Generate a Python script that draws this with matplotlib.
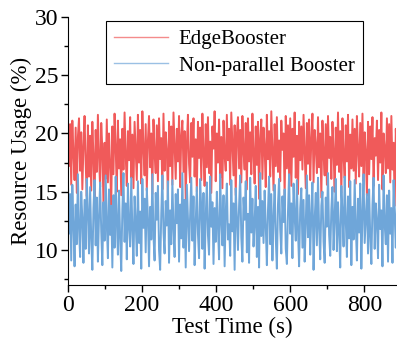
import matplotlib.pyplot as plt
import numpy as np
from matplotlib.ticker import MultipleLocator

plt.rcParams['font.family'] = ['Liberation Serif', 'DejaVu Serif']

# sampled every 3 s
step = 3
edge_booster = [
    21.4, 17.2, 20.8, 15.6, 21.1, 18.3, 16.0, 20.5, 14.9, 19.7, 21.3, 16.8, 20.1, 15.2, 18.9, 21.5, 17.4, 14.6, 20.7, 16.3,
    19.8, 15.1, 21.0, 18.0, 14.2, 20.3, 16.7, 21.6, 17.9, 15.4, 20.9, 18.6, 14.0, 19.2, 16.1, 21.2, 15.8, 20.0, 17.3, 13.9,
    20.6, 16.5, 21.7, 18.8, 15.0, 21.1, 17.0, 19.5, 14.7, 20.4, 16.9, 21.8, 18.1, 15.5, 20.2, 17.7, 21.4, 16.2, 19.9, 15.3,
    21.0, 18.4, 16.0, 21.6, 17.5, 20.3, 15.7, 21.9, 18.7, 16.4, 20.8, 15.1, 19.4, 21.5, 17.1, 20.0, 14.8, 21.2, 18.2, 16.6,
    20.7, 15.9, 21.3, 17.8, 19.6, 15.2, 21.7, 16.8, 20.1, 18.5, 14.5, 21.0, 17.2, 20.6, 15.6, 21.8, 18.9, 16.1, 20.4, 17.6,
    21.5, 15.4, 19.8, 21.1, 16.7, 20.2, 14.3, 19.0, 21.6, 17.4, 15.8, 20.9, 18.0, 21.3, 16.3, 19.5, 15.0, 21.0, 17.9, 20.5,
    16.0, 21.7, 18.3, 15.5, 20.8, 17.1, 21.4, 16.6, 19.3, 14.9, 20.6, 18.7, 21.9, 15.9, 20.0, 17.5, 21.2, 16.2, 19.7, 15.3,
    21.1, 18.1, 16.8, 21.6, 17.7, 20.4, 15.6, 21.8, 19.1, 16.4, 20.7, 14.7, 19.9, 21.4, 17.0, 20.3, 15.8, 21.5, 18.5, 16.9,
    20.9, 15.2, 21.3, 17.6, 20.1, 16.5, 21.7, 18.2, 15.7, 20.6, 17.3, 21.0, 14.4, 19.6, 21.2, 16.1, 20.5, 18.8, 15.4, 21.6,
    17.8, 20.2, 16.3, 21.9, 18.4, 15.1, 20.8, 17.2, 21.4, 16.7, 19.4, 15.9, 21.1, 18.6, 20.0, 14.6, 21.5, 17.0, 20.7, 16.4,
    21.3, 15.5, 20.4, 18.0, 21.8, 16.2, 19.8, 14.8, 21.0, 17.7, 20.6, 16.9, 21.6, 18.3, 15.3, 20.9, 17.4, 21.2, 16.0, 19.5,
    21.7, 15.8, 20.3, 18.9, 16.6, 21.4, 17.1, 20.0, 14.5, 21.1, 18.2, 16.4, 20.8, 15.6, 21.5, 17.9, 19.7, 16.1, 21.0, 18.5,
    15.0, 20.5, 17.3, 21.8, 16.7, 20.2, 14.9, 21.3, 18.0, 16.2, 20.7, 17.6, 21.6, 15.4, 19.9, 17.0, 21.2, 16.8, 20.4, 15.7,
    21.5, 18.6, 16.3, 20.9, 17.2, 21.7, 15.9, 20.1, 18.4, 14.7, 21.0, 16.5, 20.6, 17.8, 21.4, 15.5, 19.6, 18.1, 21.1, 16.0,
    20.3, 17.5, 21.8, 15.2, 20.0, 18.7, 16.6, 21.3, 17.0, 20.8, 15.8, 21.5, 16.9, 19.2, 13.8, 20.4, 17.4, 21.0, 15.1, 19.5,
]
non_parallel = [
    16.2, 11.4, 14.8, 9.1, 15.6, 12.3, 8.6, 13.9, 10.5, 16.5, 11.8, 9.4, 15.0, 12.7, 8.9, 14.3, 10.1, 16.1, 13.2, 9.7,
    15.4, 11.0, 8.3, 13.6, 16.0, 10.4, 14.5, 9.0, 12.9, 15.8, 11.6, 8.7, 14.1, 10.8, 16.4, 12.2, 9.3, 15.2, 11.3, 13.8,
    8.5, 14.7, 10.2, 16.3, 12.5, 9.6, 15.1, 11.1, 8.2, 13.5, 16.6, 10.7, 14.0, 9.2, 15.7, 12.0, 10.3, 16.2, 11.7, 8.8,
    14.6, 12.4, 9.5, 15.9, 10.6, 13.3, 8.4, 16.1, 11.9, 14.4, 9.8, 15.3, 12.8, 8.6, 13.7, 10.9, 16.5, 11.2, 9.1, 14.9,
    12.6, 15.5, 10.0, 8.3, 13.1, 16.4, 11.5, 9.7, 14.2, 12.1, 15.9, 8.9, 13.4, 10.5, 16.0, 11.8, 9.4, 14.8, 12.3, 15.2,
    9.0, 13.9, 11.0, 16.6, 10.2, 14.3, 8.5, 15.6, 12.7, 9.9, 13.0, 16.2, 10.8, 14.6, 8.7, 12.4, 15.4, 11.4, 9.3, 16.1,
    13.5, 10.1, 14.9, 8.4, 12.9, 15.8, 11.3, 9.6, 16.3, 12.0, 14.1, 8.8, 13.6, 10.7, 15.0, 11.9, 9.2, 16.5, 12.5, 10.4,
    14.7, 8.6, 13.2, 15.7, 10.9, 12.2, 9.5, 16.0, 11.6, 14.0, 8.3, 15.3, 12.8, 10.0, 13.8, 16.4, 11.1, 9.0, 14.5, 12.6,
    15.9, 9.8, 13.1, 8.9, 16.2, 11.5, 14.4, 10.3, 12.3, 15.5, 9.4, 13.7, 8.5, 16.6, 11.2, 14.2, 10.6, 15.1, 12.1, 8.7,
    13.4, 16.3, 10.5, 14.8, 9.1, 12.7, 15.6, 11.0, 8.4, 13.9, 16.1, 11.8, 9.7, 14.6, 12.4, 15.2, 10.1, 8.8, 13.3, 16.5,
    11.4, 14.0, 9.3, 15.7, 12.9, 10.8, 16.0, 11.7, 8.6, 13.6, 15.3, 10.2, 14.3, 9.0, 12.2, 16.4, 11.1, 14.7, 9.6, 13.0,
    15.8, 8.3, 12.6, 14.9, 10.4, 16.2, 11.9, 9.2, 13.8, 15.0, 10.7, 8.9, 14.5, 12.0, 16.6, 11.3, 9.5, 13.5, 15.4, 10.0,
    12.8, 16.1, 9.9, 14.1, 11.6, 8.5, 15.5, 13.2, 10.3, 16.3, 12.5, 9.4, 14.6, 11.0, 15.9, 8.7, 13.7, 10.9, 16.0, 12.1,
    9.1, 14.4, 11.5, 15.7, 8.4, 13.1, 16.5, 10.6, 12.7, 14.8, 9.7, 15.2, 11.2, 8.8, 13.9, 16.2, 10.1, 14.0, 12.4, 9.3,
    15.6, 11.8, 13.4, 8.6, 16.4, 12.2, 10.5, 14.7, 9.0, 15.1, 11.4, 13.6, 8.9, 16.0, 12.9, 10.2, 14.3, 11.7, 13.0, 12.2,
]
t = np.arange(len(edge_booster)) * step

fig = plt.figure(figsize=(3.97, 3.45), dpi=100)
ax = fig.add_axes([0.171, 0.174, 0.826, 0.777])

ax.plot(t, edge_booster, color='#F05A5A', lw=1.4, label='EdgeBooster')
ax.plot(t, non_parallel, color='#6FA6D9', lw=1.4, label='Non-parallel Booster')

ax.set_xlim(0, 885)
ax.set_ylim(7, 30)
ax.xaxis.set_major_locator(MultipleLocator(200))
ax.xaxis.set_minor_locator(MultipleLocator(100))
ax.yaxis.set_major_locator(MultipleLocator(5))
ax.yaxis.set_minor_locator(MultipleLocator(2.5))
ax.tick_params(which='both', direction='out', labelsize=17, width=1)
ax.tick_params(which='major', length=5, pad=2)
ax.tick_params(which='minor', length=3)
for s in ['top', 'right']:
    ax.spines[s].set_visible(False)

ax.set_xlabel('Test Time (s)', fontsize=16.5, labelpad=1)
ax.set_ylabel('Resource Usage (%)', fontsize=16.5, labelpad=2)

leg = ax.legend(loc='upper left', bbox_to_anchor=(0.115, 0.985), fontsize=15,
                handlelength=2.6, handletextpad=0.5, borderpad=0.4,
                labelspacing=0.35, fancybox=False, framealpha=1, borderaxespad=0)
leg.get_frame().set_edgecolor('black')
leg.get_frame().set_linewidth(0.8)
for line in leg.get_lines():
    line.set_alpha(0.7)
    line.set_linewidth(1.0)

fig.savefig('out.png', dpi=100)
